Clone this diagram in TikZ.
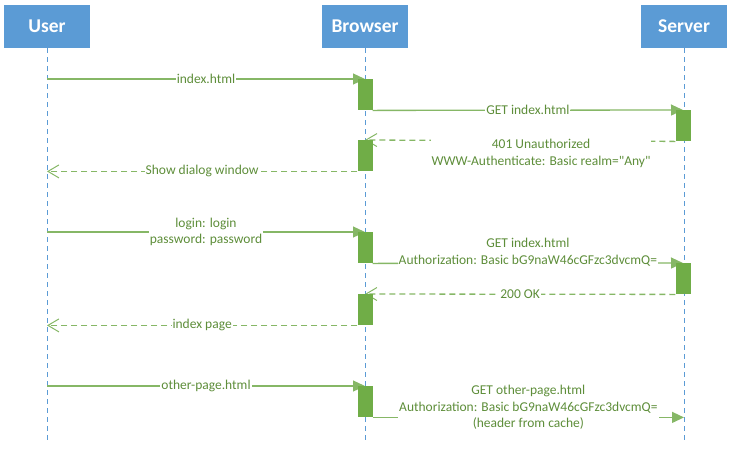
\documentclass[tikz,border=0pt]{standalone}
\usepackage{fontspec}
\setmainfont{Carlito}[Ligatures=TeXOff]
\usetikzlibrary{arrows.meta,backgrounds}
\definecolor{hdblue}{HTML}{5B9BD5}
\definecolor{actgreen}{HTML}{70AD47}
\definecolor{msggreen}{HTML}{86B766}
\definecolor{txtgreen}{HTML}{5E8E3A}
\tikzset{
  actor/.style={fill=hdblue,text=white,font=\fontsize{19.5}{22}\selectfont\bfseries,
    minimum width=86pt,minimum height=43pt,inner sep=0pt},
  bar/.style={fill=actgreen,minimum width=15pt,minimum height=31pt,inner sep=0pt,anchor=north},
  life/.style={hdblue,dash pattern=on 5pt off 4pt,line width=0.7pt},
  call/.style={msggreen,line width=1.3pt,-{Triangle[length=12pt,width=11pt]}},
  reply/.style={msggreen,line width=1.3pt,dash pattern=on 6pt off 4pt,
    -{Straight Barb[length=11pt,width=13pt,line width=1pt]}},
  lbl/.style={fill=white,text=txtgreen,font=\fontsize{13.5}{16.5}\selectfont,
    inner sep=1pt,align=center}
}
\begin{document}
\begin{tikzpicture}[x=1pt,y=-1pt]
\useasboundingbox (0,0) rectangle (729,459);
\node[actor] (user) at (47,26.5) {User};
\node[actor] (browser) at (365,26.5) {Browser};
\node[actor] (server) at (684,26.5) {Server};
\coordinate (bottom) at (0,443);
% activation bars
\foreach \n/\x/\y in {b1/365/79,s1/683/110,b2/365/140,b3/365/232,s2/683/263,b4/365/294,b5/365/386} {
  \node[bar] (\n) at (\x,\y) {};
}
\node[lbl,anchor=north] (m401) at (541,138) {401 Unauthorized\\WWW-Authenticate: Basic realm="Any"};
\begin{scope}[on background layer]
\foreach \a in {user,browser,server} {
  \draw[life] (\a.south) -- (\a.south |- bottom);
}
\draw[call] (user.south |- b1.north) -- (b1.north) node[lbl,midway] {index.html};
\draw[call] (b1.south east) -- (s1.north) node[lbl,midway] {GET index.html};
\draw[reply] (s1.south west) -- (b2.north);
\draw[reply] (b2.south west) -- (user.south |- b2.south) node[lbl,midway] {Show dialog window};
\draw[call] (user.south |- b3.north) -- (b3.north) node[lbl,midway] {login: login\\password: password};
\draw[call] (b3.south east) -- (s2.north) node[lbl,midway,yshift=11pt] {GET index.html\\Authorization: Basic bG9naW46cGFzc3dvcmQ=};
\draw[reply] (s2.south west) -- (b4.north) node[lbl,midway] {200 OK};
\draw[reply] (b4.south west) -- (user.south |- b4.south) node[lbl,midway] {index page};
\draw[call] (user.south |- b5.north) -- (b5.north) node[lbl,midway] {other-page.html};
\draw[call] (b5.south east) -- (server.south |- b5.south) node[lbl,midway,yshift=10pt] {GET other-page.html\\Authorization: Basic bG9naW46cGFzc3dvcmQ=\\(header from cache)};
\end{scope}
\end{tikzpicture}
\end{document}
